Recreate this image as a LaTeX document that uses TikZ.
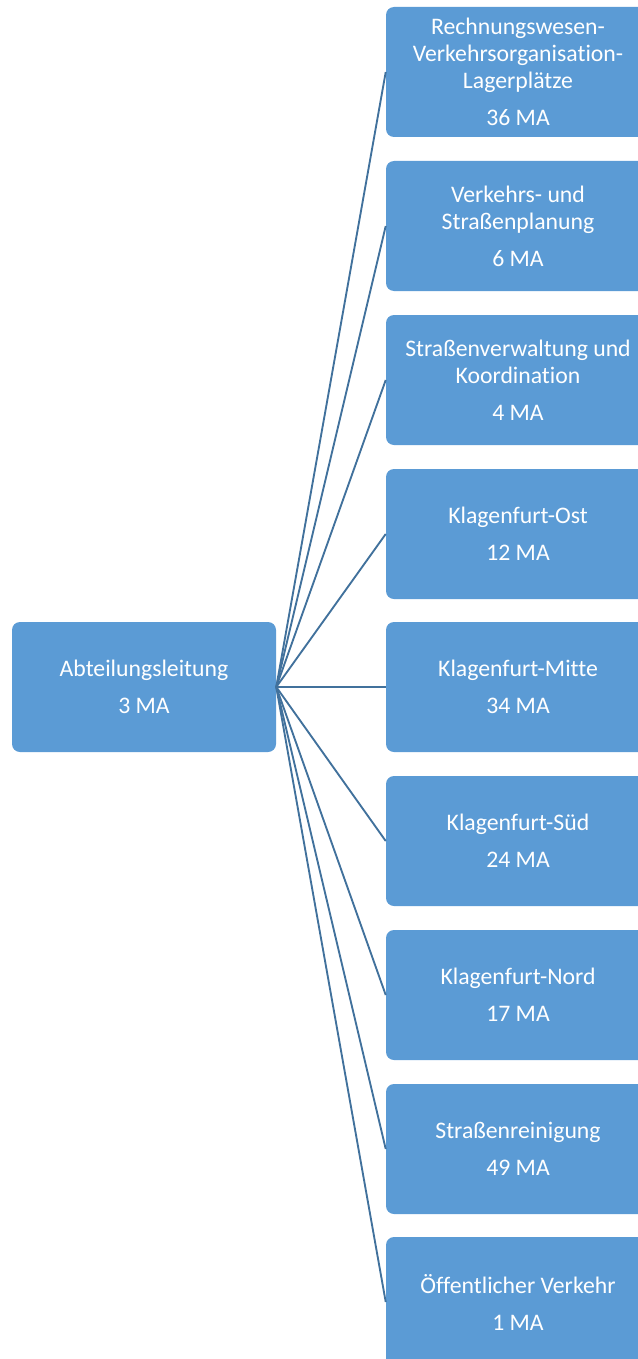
\documentclass[tikz,border=0pt]{standalone}
\usepackage{fontspec}
\setmainfont[Ligatures=NoCommon]{Carlito}
\definecolor{boxblue}{HTML}{5B9BD5}
\definecolor{linkblue}{HTML}{41719C}
\tikzstyle{unit}=[fill=boxblue,text=white,rounded corners=6pt,minimum width=198pt,minimum height=97.5pt,align=center,inner sep=0pt,font=\fontsize{17.8}{20.25}\selectfont]
\tikzstyle{link}=[linkblue,line width=1.4pt]

\begin{document}
\begin{tikzpicture}[x=0.75pt,y=-0.75pt]
	\useasboundingbox (0,0) rectangle (638,1359);
	\clip (0,0) rectangle (638,1359);

	\node[unit] (leit) at (144,687) {Abteilungsleitung\\[7.5pt]3 MA};

	\node[unit] (rech) at (518,72) {Rechnungswesen-\\Verkehrsorganisation-\\Lagerplätze\\[7.5pt]36 MA};
	\node[unit] (plan) at (518,226) {Verkehrs- und\\Straßenplanung\\[7.5pt]6 MA};
	\node[unit] (verw) at (518,380) {Straßenverwaltung und\\Koordination\\[7.5pt]4 MA};
	\node[unit] (ost) at (518,534) {Klagenfurt-Ost\\[7.5pt]12 MA};
	\node[unit] (mitte) at (518,687) {Klagenfurt-Mitte\\[7.5pt]34 MA};
	\node[unit] (sued) at (518,841) {Klagenfurt-Süd\\[7.5pt]24 MA};
	\node[unit] (nord) at (518,995) {Klagenfurt-Nord\\[7.5pt]17 MA};
	\node[unit] (rein) at (518,1149) {Straßenreinigung\\[7.5pt]49 MA};
	\node[unit] (oeff) at (518,1302) {Öffentlicher Verkehr\\[7.5pt]1 MA};

	\foreach \n in {rech,plan,verw,ost,mitte,sued,nord,rein,oeff}
		\draw[link] (leit.east) -- (\n.west);

\end{tikzpicture}
\end{document}
